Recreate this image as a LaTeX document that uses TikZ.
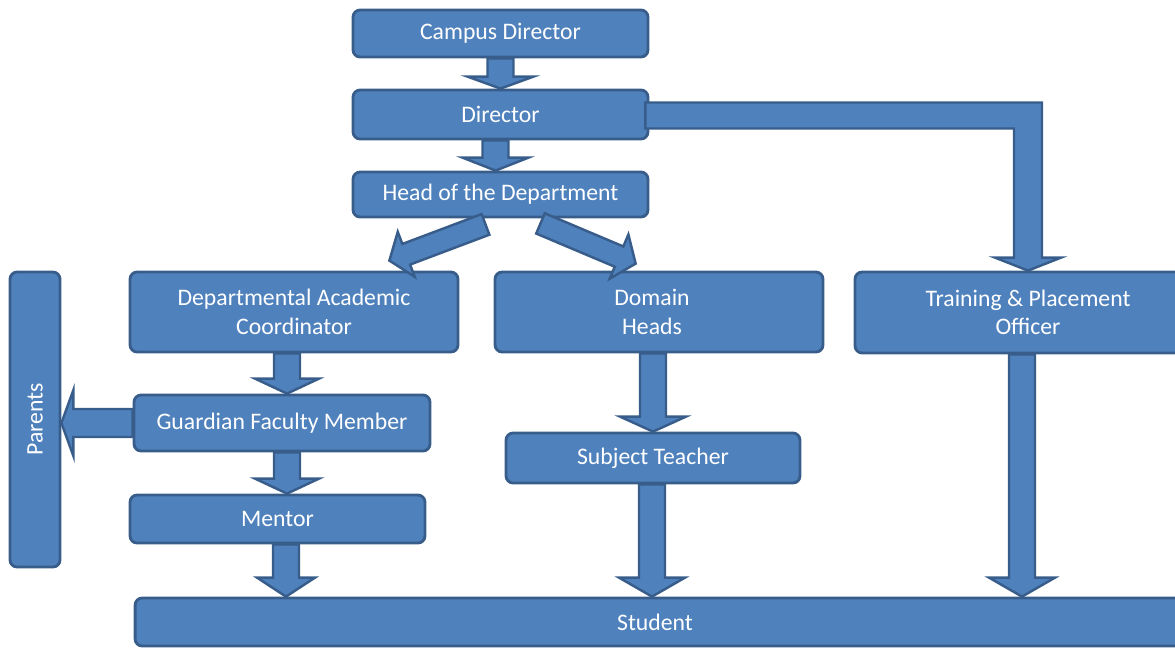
\documentclass[tikz,border=0pt]{standalone}
\usepackage{fontspec}
\setmainfont{Carlito}
\usetikzlibrary{calc}

\definecolor{boxblue}{HTML}{4F81BD}
\definecolor{bord}{HTML}{385D8A}

\tikzset{
	box/.style={draw=bord, fill=boxblue, line width=1.6pt, rounded corners=4pt,
		text=white, align=center, inner sep=0pt,
		font=\fontsize{13.5}{16.2}\selectfont},
	barrow/.style={draw=bord, fill=boxblue, line width=1.4pt, line join=miter}
}

% block arrow: start, tip, head length, shaft half width, head half width (px)
\newcommand{\blockarrow}[5]{%
	\coordinate (ba) at #1;
	\coordinate (bb) at #2;
	\coordinate (bh) at ($(bb)!#3*0.02cm!(ba)$);
	\filldraw[barrow] ($(ba)!#4*0.02cm!90:(bb)$) -- ($(bh)!#4*0.02cm!90:(bb)$)
		-- ($(bh)!#5*0.02cm!90:(bb)$) -- (bb) -- ($(bh)!#5*0.02cm!-90:(bb)$)
		-- ($(bh)!#4*0.02cm!-90:(bb)$) -- ($(ba)!#4*0.02cm!-90:(bb)$) -- cycle;
}

\begin{document}
\begin{tikzpicture}[x=0.02cm, y=-0.02cm]
	\useasboundingbox (0,0) rectangle (1175,647);
	\clip (0,0) rectangle (1175,647);

	%nodes
	\node [box, minimum width=5.9cm, minimum height=0.94cm] (cd) at (500.5,33.5) {Campus Director};
	\node [box, minimum width=5.9cm, minimum height=0.98cm] (dir) at (500.5,114.5) {Director};
	\node [box, minimum width=5.9cm, minimum height=0.9cm] (hod) at (500.5,194.5) {Head of the Department};
	\node [box, minimum width=6.56cm, minimum height=1.6cm] (dac) at (294,312) {Departmental Academic\\Coordinator};
	\node [box, minimum width=6.56cm, minimum height=1.6cm] (dom) at (659,312) {\hspace*{-0.28cm}Domain\\\hspace*{-0.28cm}Heads};
	\node [box, minimum width=6.92cm, minimum height=1.62cm] (trn) at (1028,312.5) {Training \& Placement\\Officer};
	\node [box, minimum width=1.0cm, minimum height=5.9cm] (par) at (35,419.5) {\rotatebox{90}{Parents}};
	\node [box, minimum width=5.92cm, minimum height=1.12cm] (gfm) at (282,423) {Guardian Faculty Member};
	\node [box, minimum width=5.9cm, minimum height=0.96cm] (men) at (277.5,519) {Mentor};
	\node [box, minimum width=5.88cm, minimum height=1.0cm] (sub) at (653,458) {Subject Teacher};
	\node [box, minimum width=20.96cm, minimum height=0.96cm] (stu) at (659,622) {\hspace*{-0.16cm}Student};

	%arrows
	\blockarrow{(cd.south)}{(dir.north)}{12}{13}{33}
	\blockarrow{($(dir.south)+(-5,0)$)}{($(hod.north)+(-5,0)$)}{13}{13}{33}
	\blockarrow{($(hod.south)+(-15,6)$)}{($(dac.north east)+(-70,-10)$)}{18}{11}{24}
	\blockarrow{($(hod.south)+(40,5)$)}{($(dom.north west)+(142,-7)$)}{18}{11}{24}
	\blockarrow{($(dac.south)+(-7,0)$)}{($(gfm.north)+(5,0)$)}{15}{13}{32}
	\blockarrow{(gfm.west)}{(gfm.west -| par.east)}{12}{14}{33}
	\blockarrow{($(gfm.south)+(5,0)$)}{($(men.north)+(9.5,0)$)}{15}{13}{32}

	\coordinate (m1) at ($(men.south)+(8.5,0)$);
	\coordinate (s1) at ($(sub.south)+(-1,0)$);
	\coordinate (t1) at ($(trn.south)+(-6,0)$);
	\blockarrow{(m1)}{(m1 |- stu.north)}{19}{13}{29}
	\blockarrow{($(dom.south)+(-6,0)$)}{(sub.north)}{15}{13}{33}
	\blockarrow{(s1)}{(s1 |- stu.north)}{19}{13}{33}
	\blockarrow{(t1)}{(t1 |- stu.north)}{19}{13}{33}

	%director to training
	\coordinate (lt) at ($(dir.east)+(-4,-12)$);
	\coordinate (lb) at ($(dir.east)+(-4,14)$);
	\coordinate (vr) at ($(trn.north)+(14,0)$);
	\coordinate (vl) at ($(trn.north)+(-14,0)$);
	\filldraw [barrow] (lt) -- (vr |- lt) -- ($(trn.north)+(14,-13)$) -- ($(trn.north)+(33,-13)$)
		-- (trn.north) -- ($(trn.north)+(-33,-13)$) -- ($(trn.north)+(-14,-13)$)
		-- (vl |- lb) -- (lb) -- cycle;

\end{tikzpicture}
\end{document}
